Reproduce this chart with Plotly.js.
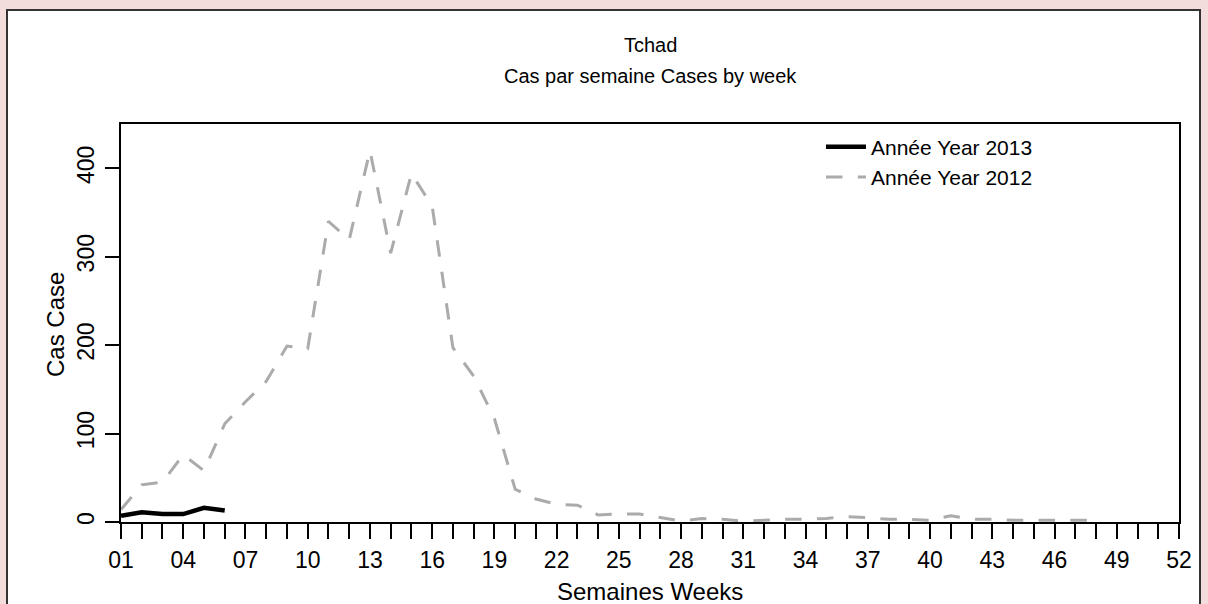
<!DOCTYPE html>
<html><head><meta charset="utf-8">
<script src="https://cdn.plot.ly/plotly-3.0.1.min.js"></script>
<style>html,body{margin:0;padding:0;background:#f2dcdc;}#chart{width:1208px;height:604px;}</style>
</head><body><div id="chart"></div>
<script>
// ---- data ----
const weeks2013 = [1,2,3,4,5,6];
const cases2013 = [7,11,9,9,16,13];
const weeks2012 = [1,2,3,4,5,6,7,8,9,10,11,12,13,14,15,16,17,18,19,20,21,22,23,24,25,26,27,28,29,30,31,32,33,34,35,36,37,38,39,40,41,42,43,44,45,46,47,48];
const cases2012 = [14,42,45,76,58,111,136,159,199,196,340,319,420,304,394,357,197,165,117,37,26,20,19,8,9,9,5,1,4,3,1,2,3,3,4,6,5,3,3,2,7,3,3,2,2,2,2,2];
const xTickVals = [1,2,3,4,5,6,7,8,9,10,11,12,13,14,15,16,17,18,19,20,21,22,23,24,25,26,27,28,29,30,31,32,33,34,35,36,37,38,39,40,41,42,43,44,45,46,47,48,49,50,51,52];
const xTickText = ["01","","","04","","","07","","","10","","","13","","","16","","","19","","","22","","","25","","","28","","","31","","","34","","","37","","","40","","","43","","","46","","","49","","","52"];
const yTickVals = [0,100,200,300,400];
const yTickText = ["0","100","200","300","400"];
const name2013 = "Année Year 2013";
const name2012 = "Année Year 2012";
const titleLine1 = "Tchad";
const titleLine2 = "Cas par semaine Cases by week";
const xTitle = "Semaines Weeks";
const yTitle = "Cas Case";

const FONT = "Liberation Sans, Arial, sans-serif";
const L = 121, R = 29, T = 124, B = 82;
const W = 1208 - L - R, H = 604 - T - B;
const px = x => (x - L) / W;
const py = y => (604 - B - y) / H;

const traces = [
  {x: weeks2013, y: cases2013, type: 'scatter', mode: 'lines', name: name2013,
   line: {color: '#000000', width: 4.5}},
  {x: weeks2012, y: cases2012, type: 'scatter', mode: 'lines', name: name2012,
   line: {color: '#ababab', width: 3, dash: '16.5px,15.3px'}}
];

const axisCommon = {showline: true, mirror: true, linecolor: '#000', linewidth: 2,
  showgrid: false, zeroline: false, ticks: 'outside', tickcolor: '#000', tickwidth: 2,
  tickfont: {family: FONT, size: 23, color: '#000'}, fixedrange: true};

const layout = {
  width: 1208, height: 604,
  margin: {l: L, r: R, t: T, b: B, pad: 0},
  paper_bgcolor: '#f2dcdc', plot_bgcolor: '#ffffff',
  font: {family: FONT, size: 20, color: '#000'},
  xaxis: Object.assign({}, axisCommon, {range: [1, 52], tickmode: 'array', tickvals: xTickVals, ticktext: xTickText, ticklen: 15, tickangle: 0, ticklabelstandoff: 1}),
  yaxis: Object.assign({}, axisCommon, {range: [0, 450], tickmode: 'array', tickvals: yTickVals, ticktext: yTickText, ticklen: 14, tickangle: -90, ticklabelstandoff: 2}),
  showlegend: true,
  legend: {x: px(821), y: py(126.5), xanchor: 'left', yanchor: 'top', bgcolor: 'rgba(0,0,0,0)',
    font: {family: FONT, size: 21, color: '#000'}, itemwidth: 40, tracegroupgap: 0},
  shapes: [
    {type: 'rect', xref: 'paper', yref: 'paper', layer: 'below',
     x0: px(7), x1: px(1200), y0: py(640), y1: py(10),
     line: {color: '#333333', width: 2}, fillcolor: '#ffffff'}
  ],
  annotations: [
    {text: titleLine1, xref: 'paper', yref: 'paper', x: 0.5, y: py(45), xanchor: 'center', yanchor: 'middle', showarrow: false, font: {family: FONT, size: 20, color: '#000'}},
    {text: titleLine2, xref: 'paper', yref: 'paper', x: 0.5, y: py(76), xanchor: 'center', yanchor: 'middle', showarrow: false, font: {family: FONT, size: 20, color: '#000'}},
    {text: xTitle, xref: 'paper', yref: 'paper', x: 0.5, y: py(591), xanchor: 'center', yanchor: 'middle', showarrow: false, font: {family: FONT, size: 24, color: '#000'}},
    {text: yTitle, xref: 'paper', yref: 'paper', x: px(55), y: py(325), xanchor: 'center', yanchor: 'middle', textangle: -90, showarrow: false, font: {family: FONT, size: 24, color: '#000'}}
  ]
};

Plotly.newPlot('chart', traces, layout, {staticPlot: true, displayModeBar: false});
</script></body></html>
